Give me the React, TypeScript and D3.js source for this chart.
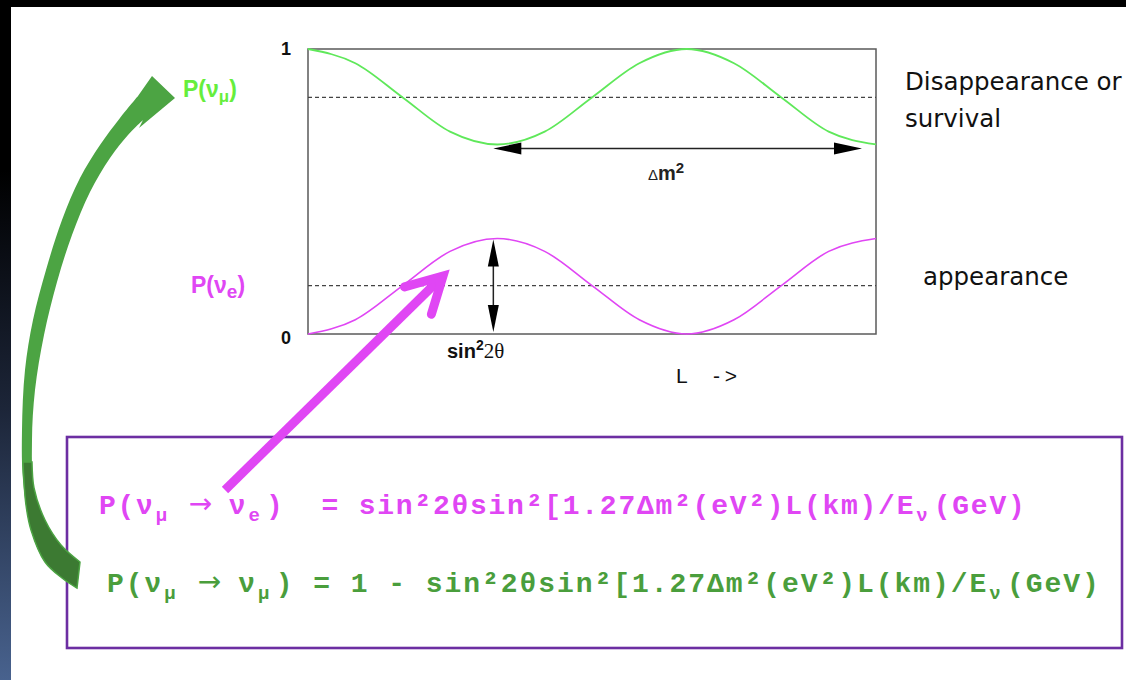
import React from 'react';
import * as d3 from 'd3';

const W = 1126;
const H = 680;

// Baseline L in units of one full oscillation length, sampled every eighth
const lengths = [0, 0.125, 0.25, 0.375, 0.5, 0.625, 0.75, 0.875, 1, 1.125, 1.25, 1.375, 1.5];
// P(νμ) survival probability
const survivalProb = [1.0, 0.95, 0.83, 0.71, 0.665, 0.71, 0.83, 0.95, 1.0, 0.95, 0.83, 0.71, 0.665];
// P(νe) appearance probability
const appearanceProb = [0.0, 0.05, 0.17, 0.29, 0.335, 0.29, 0.17, 0.05, 0.0, 0.05, 0.17, 0.29, 0.335];
// averaged probabilities (dashed)
const survivalMean = 0.83;
const appearanceMean = 0.17;
// sin²2θ amplitude and the L at which it is marked
const mixingAmplitude = 0.335;
const amplitudeAt = 0.5;
// one oscillation length, marked with Δm²
const periodSpan = [0.5, 1.5];
const yTicks = [0, 1];

const formulaAppear = 'P(ν_μ → ν_e)  = sin²2θsin²[1.27Δm²(eV²)L(km)/E_ν(GeV)';
const formulaSurvive = 'P(ν_μ → ν_μ) = 1 - sin²2θsin²[1.27Δm²(eV²)L(km)/E_ν(GeV)';

const GREEN_CURVE = '#5fe85a';
const GREEN_LABEL = '#66ee3c';
const MAGENTA = '#e046f4';
const GREEN_TEXT = '#4a9e3c';
const ARROW_GREEN = '#4ca443';

type Cell = { ch: string; sub: boolean };
function toCells(s: string): Cell[] {
  const out: Cell[] = [];
  const chars = Array.from(s);
  for (let i = 0; i < chars.length; i++) {
    if (chars[i] === '_') {
      out.push({ ch: chars[i + 1], sub: true });
      i++;
    } else out.push({ ch: chars[i], sub: false });
  }
  return out;
}

function Formula({ text, x0, base, color, cw }: { text: string; x0: number; base: number; color: string; cw: number }) {
  return (
    <g fill={color} fontFamily="'Liberation Mono', monospace" fontWeight="bold">
      {toCells(text).map((c, i) => {
        if (c.ch === ' ') return null;
        if (c.ch === '→')
          return (
            <text key={i} x={x0 + i * cw - 3} y={base - 1} fontSize={28} fontFamily="'DejaVu Sans', sans-serif" fontWeight="normal">
              {c.ch}
            </text>
          );
        return (
          <text key={i} x={x0 + i * cw + (c.sub ? 1 : 0)} y={base + (c.sub ? 7 : 0)} fontSize={c.sub ? 19 : 28}>
            {c.ch}
          </text>
        );
      })}
    </g>
  );
}

function head(tipX: number, tipY: number, ang: number, len: number, half: number) {
  // filled triangle pointing along ang (radians) with its tip at (tipX, tipY)
  const bx = tipX - Math.cos(ang) * len;
  const by = tipY - Math.sin(ang) * len;
  const px = -Math.sin(ang) * half;
  const py = Math.cos(ang) * half;
  return `M${tipX},${tipY}L${bx + px},${by + py}L${bx - px},${by - py}Z`;
}

export default function App() {
  const x = d3.scaleLinear().domain([0, 1.5]).range([308, 876]);
  const y = d3.scaleLinear().domain([0, 1]).range([334, 49]);

  const line = d3
    .line<number>()
    .x((_, i) => x(lengths[i]))
    .y((d) => y(d))
    .curve(d3.curveMonotoneX);

  // Δm² span arrow, just under the survival minimum
  const dmY = y(d3.min(survivalProb) as number) + 4;
  const dmX0 = x(periodSpan[0]) - 4;
  const dmX1 = x(periodSpan[1]) - 14;

  // sin²2θ amplitude arrow
  const ampX = x(amplitudeAt) - 4;
  const ampY0 = y(0) - 2;
  const ampY1 = y(mixingAmplitude) + 1;

  // curved green arrow from the survival formula up to P(νμ)
  const outer: [number, number][] = [
    [77, 588], [62, 578], [45, 562], [31, 530], [23, 480], [22, 430], [25, 370], [33, 320],
    [46, 270], [62, 220], [80, 178], [100, 145], [120, 118], [138, 96],
  ];
  const inner: [number, number][] = [
    [143, 120], [128, 135], [110, 158], [90, 192], [72, 235], [57, 282], [44, 335], [35, 390],
    [32, 440], [34, 488], [45, 520], [61, 545], [80, 562],
  ];
  const cr = d3.line().curve(d3.curveCatmullRom);
  const greenArrow =
    (cr(outer) as string) +
    'L152,76L175,98L139,128' +
    (cr(inner) as string).replace(/^M/, 'L') +
    'Z';
  const lowerOuter: [number, number][] = [[23, 462], [26, 505], [31, 530], [45, 562], [62, 578], [77, 588]];
  const lowerInner: [number, number][] = [[80, 562], [61, 545], [45, 520], [34, 488], [32, 462]];
  const greenLower =
    (cr(lowerOuter) as string) + (cr(lowerInner) as string).replace(/^M/, 'L') + 'Z';

  // magenta pointer from the appearance formula to the P(νe) curve
  const mTail = [225, 490];
  const mTip = [443, 276];
  const back = Math.atan2(mTail[1] - mTip[1], mTail[0] - mTip[0]);
  const armLen = 40;
  const arm1 = [mTip[0] + Math.cos(back + 0.5) * armLen, mTip[1] + Math.sin(back + 0.5) * armLen];
  const arm2 = [mTip[0] + Math.cos(back - 0.5) * armLen, mTip[1] + Math.sin(back - 0.5) * armLen];

  const sans = "'Liberation Sans', Arial, sans-serif";

  return (
    <div style={{ position: 'fixed', left: 0, top: 0, width: W, height: H }}>
      <svg width={W} height={H} style={{ display: 'block' }}>
        <defs>
          <linearGradient id="edge" x1="0" y1="0" x2="0" y2="1">
            <stop offset="0" stopColor="#000" />
            <stop offset="0.25" stopColor="#000" />
            <stop offset="0.6" stopColor="#1c2538" />
            <stop offset="1" stopColor="#48628e" />
          </linearGradient>
        </defs>
        <rect x={0} y={0} width={W} height={H} fill="#000" />
        <rect x={0} y={0} width={11} height={H} fill="url(#edge)" />
        <rect x={11} y={7} width={W - 11} height={H - 7} fill="#fff" />

        {/* plot frame */}
        <rect x={x(0)} y={y(1)} width={x(1.5) - x(0)} height={y(0) - y(1)} fill="none" stroke="#5a5a5a" strokeWidth={1.5} />
        {yTicks.map((t) => (
          <text key={t} x={291} y={y(t) + (t === 1 ? 6 : 10)} textAnchor="end" fontFamily={sans} fontWeight="bold" fontSize={18} fill="#111">
            {t}
          </text>
        ))}

        {/* averaged probabilities */}
        {[survivalMean, appearanceMean].map((m) => (
          <line key={m} x1={x(0)} x2={x(1.5)} y1={y(m)} y2={y(m)} stroke="#444" strokeWidth={1.3} strokeDasharray="4 3" />
        ))}

        <path d={line(survivalProb) as string} fill="none" stroke={GREEN_CURVE} strokeWidth={1.8} />
        <path d={line(appearanceProb) as string} fill="none" stroke={MAGENTA} strokeWidth={1.6} />

        {/* Δm² arrow */}
        <line x1={dmX0 + 20} x2={dmX1 - 20} y1={dmY} y2={dmY} stroke="#222" strokeWidth={1.5} />
        <path d={head(dmX1, dmY, 0, 28, 6)} fill="#000" />
        <path d={head(dmX0, dmY, Math.PI, 28, 6)} fill="#000" />
        <text x={648} y={180} fontFamily={sans} fill="#222">
          <tspan fontSize={15}>Δ</tspan>
          <tspan fontSize={20} fontWeight="bold">m</tspan>
          <tspan fontSize={15} fontWeight="bold" dy={-7}>2</tspan>
        </text>

        {/* sin²2θ arrow */}
        <line x1={ampX} x2={ampX} y1={ampY0 - 20} y2={ampY1 + 20} stroke="#222" strokeWidth={1.5} />
        <path d={head(ampX, ampY1, -Math.PI / 2, 27, 5.5)} fill="#000" />
        <path d={head(ampX, ampY0, Math.PI / 2, 27, 5.5)} fill="#000" />
        <text x={447} y={358} fill="#111">
          <tspan fontFamily={sans} fontWeight="bold" fontSize={20}>sin</tspan>
          <tspan fontFamily={sans} fontWeight="bold" fontSize={14} dy={-8}>2</tspan>
          <tspan fontFamily="'Liberation Serif', serif" fontSize={21} dy={8}>2θ</tspan>
        </text>
        <text x={676} y={383} fontFamily={sans} fontSize={21} fill="#111" textLength={61} lengthAdjust="spacing" style={{ whiteSpace: 'pre' }}>
          {'L  ->'}
        </text>

        {/* curve labels */}
        <text x={183} y={97} fontFamily={sans} fontWeight="bold" fontSize={23} fill={GREEN_LABEL}>
          P(ν<tspan fontSize={17} dy={5}>μ</tspan>
          <tspan dy={-5}>)</tspan>
        </text>
        <text x={191} y={293} fontFamily={sans} fontWeight="bold" fontSize={23} fill={MAGENTA}>
          P(ν<tspan fontSize={19} dy={5}>e</tspan>
          <tspan dy={-5}>)</tspan>
        </text>

        {/* side captions */}
        <g fontFamily="'DejaVu Sans', Verdana, sans-serif" fontSize={24.5} fill="#111">
          <text x={905} y={90}>Disappearance or</text>
          <text x={905} y={127}>survival</text>
          <text x={923} y={285}>appearance</text>
        </g>

        {/* formula box */}
        <rect x={67} y={437} width={1055} height={211} fill="none" stroke="#6c2ea2" strokeWidth={2.6} />
        <Formula text={formulaAppear} x0={99} base={514} color={MAGENTA} cw={18.55} />
        <Formula text={formulaSurvive} x0={107} base={592} color={GREEN_TEXT} cw={18.75} />

        {/* pointers */}
        <path d={greenArrow} fill={ARROW_GREEN} />
        <path d={greenLower} fill="#3c7a32" stroke={ARROW_GREEN} strokeWidth={1.5} />
        <line x1={mTail[0]} y1={mTail[1]} x2={mTip[0]} y2={mTip[1]} stroke={MAGENTA} strokeWidth={9} />
        <polyline
          points={`${arm1[0]},${arm1[1]} ${mTip[0]},${mTip[1]} ${arm2[0]},${arm2[1]}`}
          fill="none"
          stroke={MAGENTA}
          strokeWidth={9}
          strokeLinejoin="miter"
          strokeLinecap="round"
        />
      </svg>
    </div>
  );
}
